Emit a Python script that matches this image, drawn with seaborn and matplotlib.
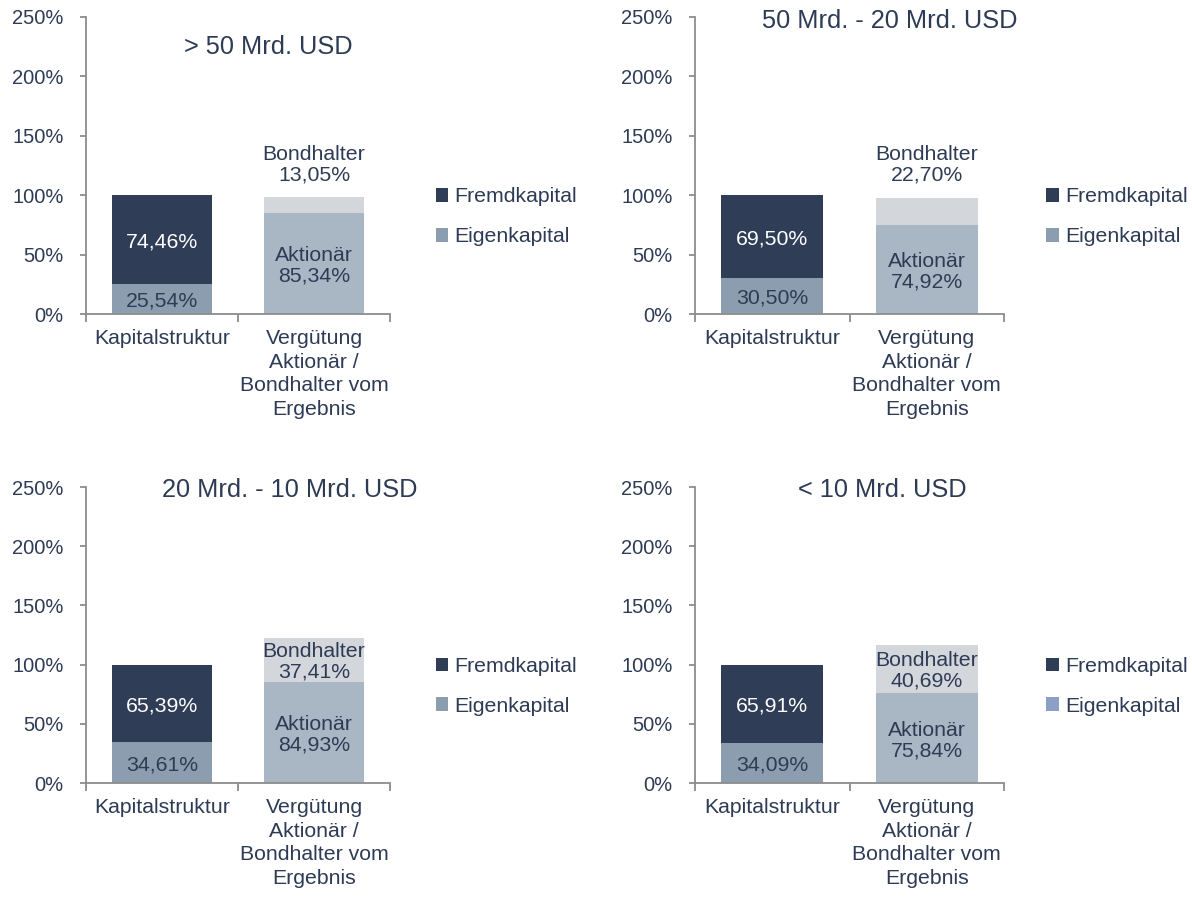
import matplotlib
matplotlib.use("Agg")
import matplotlib.pyplot as plt
from matplotlib.patches import Patch
import seaborn as sns
import pandas as pd

# ---- data ----
panel_titles = ["> 50 Mrd. USD", "50 Mrd. - 20 Mrd. USD",
                "20 Mrd. - 10 Mrd. USD", "< 10 Mrd. USD"]
categories = ["Kapitalstruktur", "Vergütung\nAktionär /\nBondhalter vom\nErgebnis"]
eigenkapital = [25.54, 30.50, 34.61, 34.09]
fremdkapital = [74.46, 69.50, 65.39, 65.91]
aktionaer = [85.34, 74.92, 84.93, 75.84]
bondhalter = [13.05, 22.70, 37.41, 40.69]
legend_labels = ["Fremdkapital", "Eigenkapital"]
yticks = [0, 50, 100, 150, 200, 250]

# ---- style ----
sns.set_theme(style="white")
plt.rcParams["font.family"] = ["Liberation Sans", "DejaVu Sans"]
TXT = "#2E3B55"
C_FREMD = "#2F3D57"
C_EIGEN = "#8B9DAF"
C_AKT = "#A9B6C4"
C_BOND = "#D3D7DC"
AX = "#8C8C8C"
FS = 15.3
FS_TICK = 14.5

fig = plt.figure(figsize=(11.92, 8.97), dpi=100)
W, H = 1192, 897
# (left px, top px, right px, bottom px)
boxes = [(86, 17, 390, 314), (695, 17, 1004, 314),
         (86, 487, 390, 783), (695, 487, 1004, 783)]
title_pos = [(0.60, 0.90), (0.63, 0.985), (0.67, 0.99), (0.605, 0.99)]
legend_x = [1.145, 1.133, 1.145, 1.133]
eigen_leg_colors = [C_EIGEN, C_EIGEN, C_EIGEN, "#8C9FC6"]

for i in range(4):
    l, t, r, b = boxes[i]
    ax = fig.add_axes([l / W, 1 - b / H, (r - l) / W, (b - t) / H])
    bottoms = [eigenkapital[i], aktionaer[i]]
    totals = [eigenkapital[i] + fremdkapital[i], aktionaer[i] + bondhalter[i]]
    df_top = pd.DataFrame({"cat": categories, "val": totals})
    df_bot = pd.DataFrame({"cat": categories, "val": bottoms})
    sns.barplot(data=df_top, x="cat", y="val", hue="cat",
                palette={categories[0]: C_FREMD, categories[1]: C_BOND},
                width=0.66, legend=False, ax=ax, saturation=1, errorbar=None,
                linewidth=0)
    sns.barplot(data=df_bot, x="cat", y="val", hue="cat",
                palette={categories[0]: C_EIGEN, categories[1]: C_AKT},
                width=0.66, legend=False, ax=ax, saturation=1, errorbar=None,
                linewidth=0)

    fmt = lambda v: f"{v:.2f}".replace(".", ",") + "%"
    # labels
    ax.text(0, eigenkapital[i] / 2 - 2, fmt(eigenkapital[i]), ha="center", va="center",
            color=TXT, fontsize=FS)
    ax.text(0, eigenkapital[i] + fremdkapital[i] / 2 - 2, fmt(fremdkapital[i]),
            ha="center", va="center", color="white", fontsize=FS)
    ax.text(1, aktionaer[i] / 2 - 2, "Aktionär\n" + fmt(aktionaer[i]), ha="center",
            va="center", color=TXT, fontsize=FS, linespacing=1.1)
    if i < 2:
        by = 126
    else:
        by = aktionaer[i] + bondhalter[i] / 2 - 1
    ax.text(1, by, "Bondhalter\n" + fmt(bondhalter[i]), ha="center", va="center",
            color=TXT, fontsize=FS, linespacing=1.1)

    ax.text(title_pos[i][0], title_pos[i][1], panel_titles[i], transform=ax.transAxes,
            ha="center", va="center", color=TXT, fontsize=18.3)

    ax.set_xlim(-0.5, 1.5)
    ax.set_ylim(0, 250)
    ax.set_yticks(yticks)
    ax.set_yticklabels([f"{v}%" for v in yticks])
    ax.set_xticks([0, 1])
    ax.set_xticklabels(categories, linespacing=1.3)
    ax.set_xticks([-0.5, 0.5, 1.5], minor=True)
    ax.set_xlabel("")
    ax.set_ylabel("")
    for s in ["top", "right"]:
        ax.spines[s].set_visible(False)
    for s in ["left", "bottom"]:
        ax.spines[s].set_color(AX)
        ax.spines[s].set_linewidth(1.3)
    ax.tick_params(axis="y", which="major", left=True, length=4, width=1.3, color=AX,
                   pad=12, labelsize=FS_TICK, labelcolor=TXT)
    ax.tick_params(axis="x", which="major", bottom=True, length=0, pad=11,
                   labelsize=FS, labelcolor=TXT)
    ax.tick_params(axis="x", which="minor", bottom=True, length=6, width=1.3, color=AX)

    handles = [Patch(facecolor=C_FREMD, edgecolor="none"),
               Patch(facecolor=eigen_leg_colors[i], edgecolor="none")]
    ax.legend(handles, legend_labels, loc="center left",
              bbox_to_anchor=(legend_x[i] - 0.03, 0.327), frameon=False,
              fontsize=FS, labelcolor=TXT, handlelength=0.6, handleheight=0.6,
              handletextpad=0.3, labelspacing=0.98, borderpad=0)

fig.savefig("out.png", dpi=100, facecolor="white")
